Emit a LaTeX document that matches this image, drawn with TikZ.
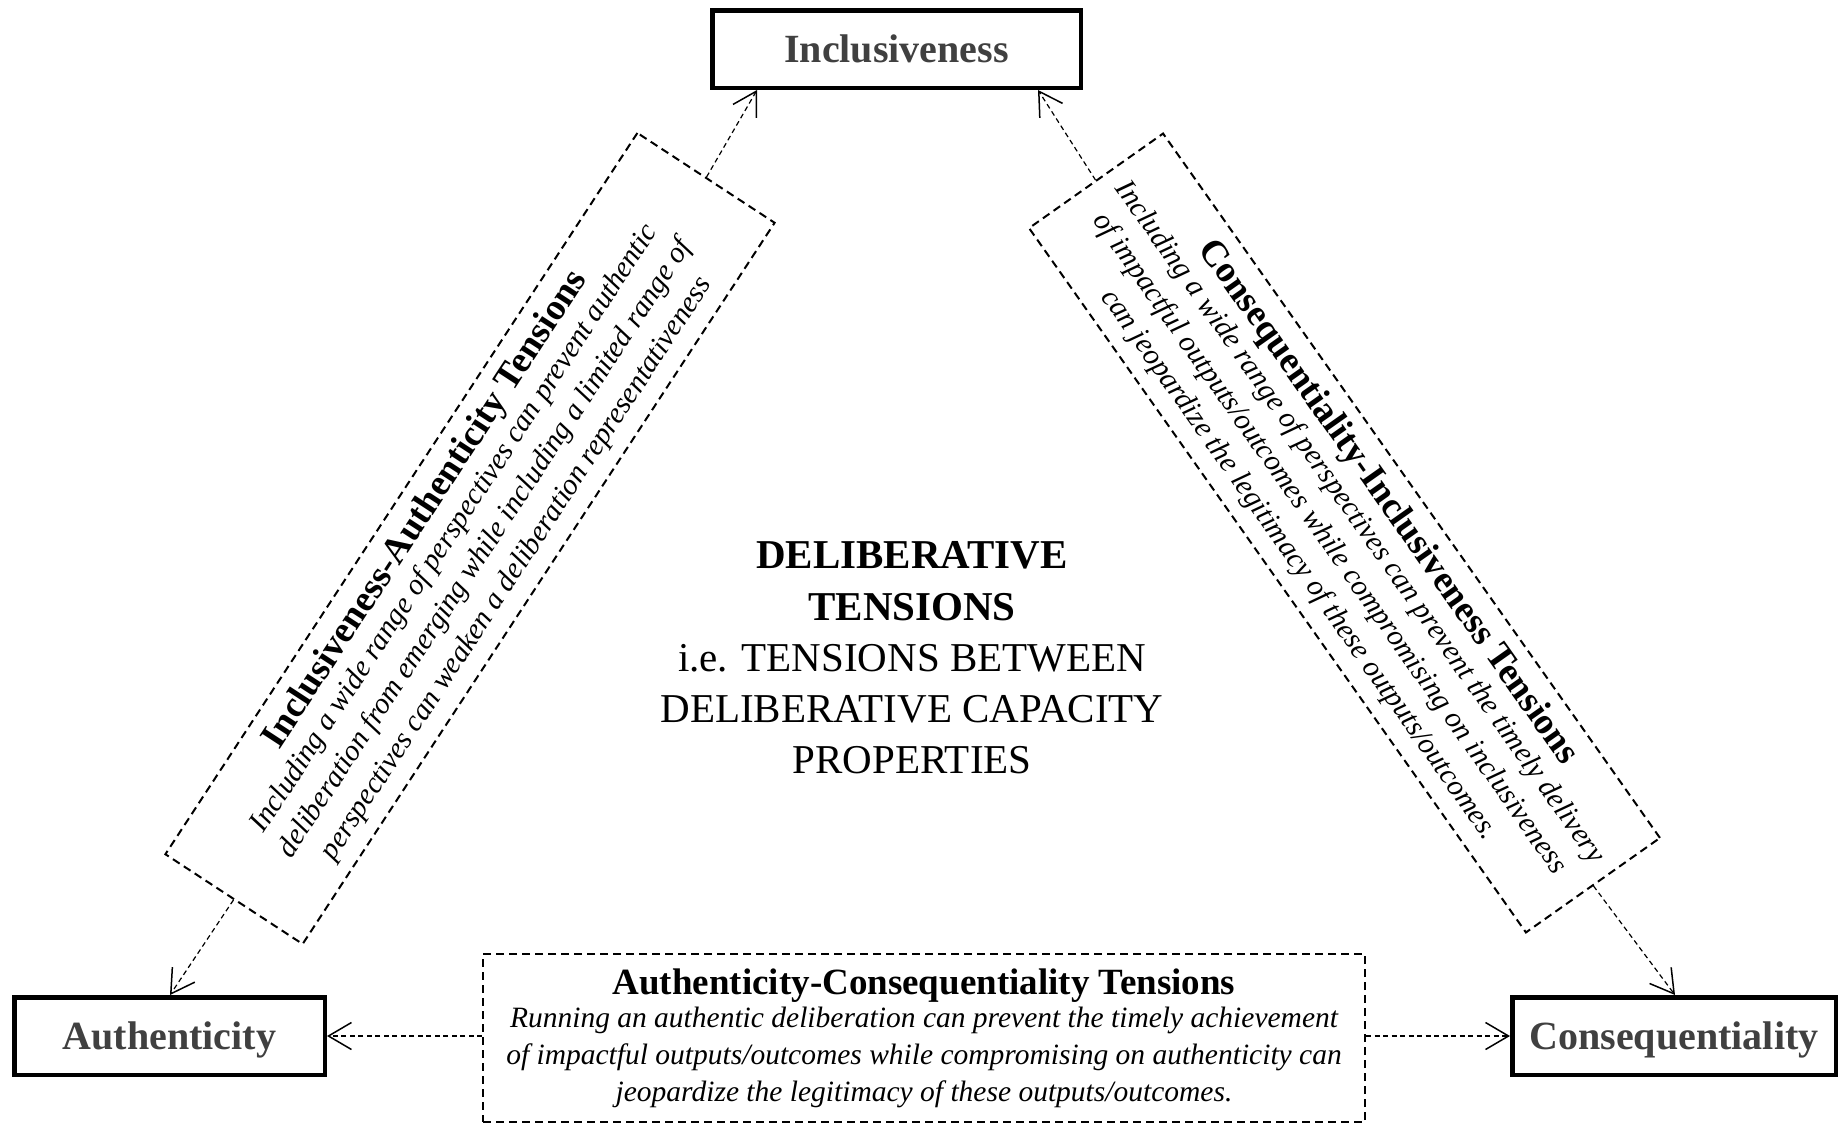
\documentclass[tikz,border=0pt]{standalone}
\usepackage{fontspec}
\setmainfont{Liberation Serif}
\usetikzlibrary{arrows.meta}
\definecolor{labelgray}{RGB}{64,64,64}
\newcommand{\tensiontitle}[1]{{\fontsize{37}{37}\selectfont\bfseries\upshape #1}}
\begin{document}
\begin{tikzpicture}[x=1pt,y=-1pt,
  propbox/.style={draw=black, line width=4.5pt, fill=white, inner sep=0pt,
    text=labelgray, font=\fontsize{40}{48}\selectfont\bfseries,
    text height=27pt, text depth=0pt, minimum height=77.5pt},
  tensbox/.style={draw=black, line width=2pt, dash pattern=on 8pt off 5pt,
    inner sep=0pt, align=center, font=\fontsize{29.5}{37}\selectfont\itshape},
  connarrow/.style={line width=1.2pt, dash pattern=on 5pt off 3.5pt,
    -{Straight Barb[length=23pt,width=27pt,line width=1.5pt]}}]
\useasboundingbox (0,0) rectangle (1840,1125);

\node[propbox, minimum width=368.5pt] (incl) at (896.5,49) {Inclusiveness};
\node[propbox, minimum width=310.5pt] (auth) at (169.5,1036) {Authenticity};
\node[propbox, minimum width=323.5pt] (cons) at (1674,1036) {Consequentiality};

\node[tensbox, rotate=56.8, minimum width=862pt, minimum height=164pt] (lbox) at (470,538.5)
  {\tensiontitle{Inclusiveness-Authenticity Tensions}\\[-4pt]
   Including a wide range of perspectives can prevent authentic\\
   deliberation from emerging while including a limited range of\\
   perspectives can weaken a deliberation representativeness};

\node[tensbox, rotate=-54.8, minimum width=862pt, minimum height=164pt] (rbox) at (1344.5,533)
  {\tensiontitle{Consequentiality-Inclusiveness Tensions}\\[-4pt]
   Including a wide range of perspectives can prevent the timely delivery\\
   of impactful outputs/outcomes while compromising on inclusiveness\\
   can jeopardize the legitimacy of these outputs/outcomes.};

\node[tensbox, minimum width=882pt, minimum height=168pt] (acbox) at (924,1038)
  {\tensiontitle{Authenticity-Consequentiality Tensions}\\[-4pt]
   Running an authentic deliberation can prevent the timely achievement\\
   of impactful outputs/outcomes while compromising on authenticity can\\
   jeopardize the legitimacy of these outputs/outcomes.};

\node[align=center, font=\fontsize{41}{51.3}\selectfont] (centre) at (912,658)
  {\textbf{DELIBERATIVE}\\\textbf{TENSIONS}\\i.e. TENSIONS BETWEEN\\DELIBERATIVE CAPACITY\\PROPERTIES};

\draw[connarrow] (lbox.east) -- ([xshift=47pt]incl.south west);
\draw[connarrow] (lbox.west) -- ([xshift=158pt]auth.north west);
\draw[connarrow] (rbox.west) -- ([xshift=-45pt]incl.south east);
\draw[connarrow] (rbox.east) -- ([xshift=165pt]cons.north west);
\draw[connarrow] (acbox.west |- auth.east) -- (auth.east);
\draw[connarrow] (acbox.east |- cons.west) -- (cons.west);
\end{tikzpicture}
\end{document}
